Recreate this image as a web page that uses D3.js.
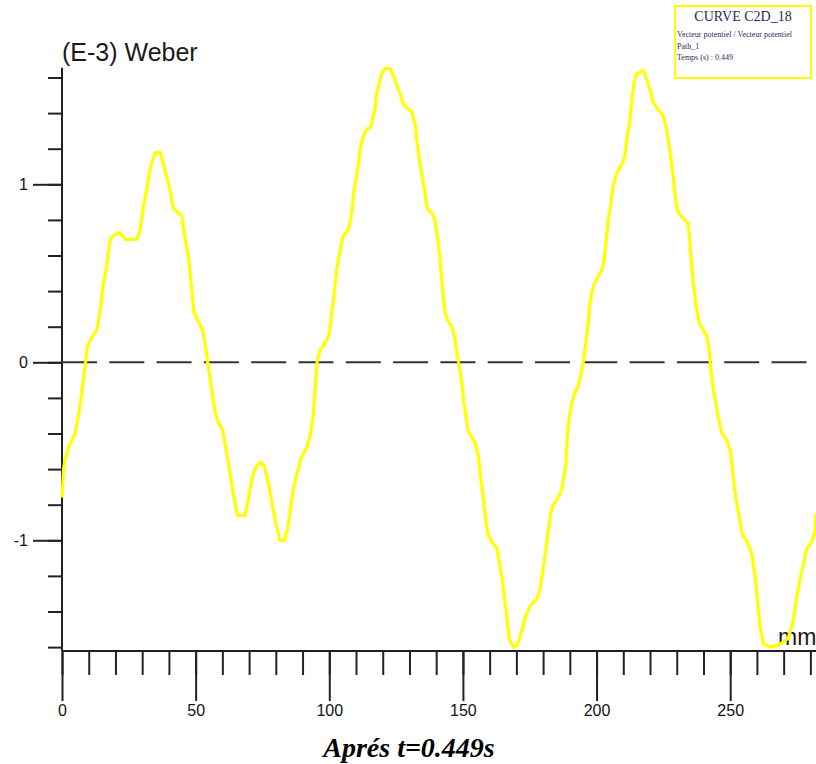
<!DOCTYPE html>
<html>
<head>
<meta charset="utf-8">
<script src="https://cdn.jsdelivr.net/npm/d3@7"></script>
<style>
  html, body { margin: 0; padding: 0; background: #fff; }
  svg { display: block; }
</style>
</head>
<body>
<svg id="chart" width="816" height="764"></svg>
<script>
// Position along the path (mm)
const positionMm = [
  0, 0.6, 1.1, 2.4, 4.9, 6.1, 7.4, 8.6, 9.5, 11.1, 13.0, 14.2, 15.5, 16.7, 18.0, 19.2,
  21.4, 23.6, 27.9, 29.2, 30.4, 31.9, 33.2, 34.8, 36.7, 38.2, 40.4, 41.6, 43.5, 44.8,
  46.0, 47.6, 48.5, 49.4, 51.0, 52.6, 53.5, 54.7, 56.0, 57.2, 58.5, 60.1, 61.4, 62.6,
  64.1, 65.6, 68.5, 69.7, 71.0, 72.2, 74.1, 75.6, 76.6, 77.8, 79.0, 80.3, 81.6, 83.4,
  84.7, 85.6, 86.5, 88.0, 89.7, 91.5, 92.8, 93.8, 94.6, 95.5,
  96.5, 98.4, 99.6, 100.3, 100.9, 101.5, 102.1, 102.8, 103.7, 104.6, 105.2, 107.1,
  108.0, 108.7, 109.2, 110.0, 110.9, 111.7, 112.7, 114.0, 115.5, 116.2, 117.1, 117.7,
  118.7, 119.6, 120.8, 122.7, 124.2, 125.4, 126.5, 127.7, 129.0, 130.8, 132.1, 132.9,
  133.9, 134.9, 135.8, 136.7, 138.3, 139.5, 140.4, 141.4, 142.4, 143.3, 144.5, 146.2,
  147.0, 147.9, 148.6, 149.5, 150.4, 151.4, 152.0, 153.3, 154.5, 155.7, 156.6, 157.6,
  158.6, 159.5, 160.8, 162.6, 163.6, 164.5, 165.4, 166.4, 167.3, 168.8, 170.3, 172.0,
  173.8, 175.1, 177.6, 178.8, 180.0, 181.1, 181.9, 182.8, 183.8, 185.7, 186.9, 187.8,
  188.6, 189.0, 189.8, 190.7, 191.9, 193.2, 194.0, 195.0, 196.0, 196.9, 197.4, 198.5,
  199.4, 201.3, 202.5, 203.5, 204.4, 205.3, 206.0, 206.9, 208.1, 209.8, 210.6, 211.5,
  212.5, 213.1, 214.0, 215.0, 217.5, 218.7, 220.0, 221.2, 223.1, 224.9, 226.2, 227.5,
  228.7, 229.7, 230.6, 232.4, 234.3, 235.2, 236.2, 237.2, 238.4, 239.9, 241.2, 242.2,
  242.6, 243.4, 244.6, 245.9, 246.8, 248.6, 250.1, 251.1, 252.1, 253.4, 254.6, 256.4,
  258.0, 259.3, 260.2, 261.2, 262.4, 264.9, 268.0, 271.7, 273.6, 274.9, 276.1, 277.4,
  278.6, 280.5, 281.7, 282.1
];

// Magnetic vector potential (E-3 Weber)
const potential = [
  -0.76, -0.60, -0.55, -0.48, -0.40, -0.31, -0.17, -0.03, 0.09, 0.14, 0.18, 0.28, 0.44, 0.54, 0.69, 0.71,
  0.73, 0.69, 0.69, 0.74, 0.87, 0.99, 1.10, 1.18, 1.18, 1.10, 0.97, 0.87, 0.84, 0.82,
  0.70, 0.56, 0.41, 0.28, 0.23, 0.18, 0.11, -0.02, -0.15, -0.27, -0.34, -0.38, -0.49, -0.60,
  -0.74, -0.86, -0.86, -0.77, -0.66, -0.60, -0.56, -0.58, -0.64, -0.72, -0.83, -0.92, -1.00, -1.00,
  -0.91, -0.81, -0.72, -0.62, -0.53, -0.48, -0.42, -0.32, -0.17, 0.01,
  0.065, 0.11, 0.14, 0.19, 0.28, 0.34, 0.43, 0.52, 0.60, 0.67, 0.71, 0.74,
  0.80, 0.88, 0.96, 1.03, 1.12, 1.21, 1.27, 1.31, 1.32, 1.37, 1.42, 1.51,
  1.57, 1.62, 1.65, 1.65, 1.60, 1.55, 1.51, 1.45, 1.43, 1.41, 1.34, 1.23,
  1.12, 1.03, 0.95, 0.86, 0.84, 0.80, 0.71, 0.58, 0.41, 0.28, 0.23, 0.19,
  0.13, 0.04, -0.02, -0.10, -0.23, -0.33, -0.39, -0.42, -0.45, -0.52, -0.64, -0.76,
  -0.89, -0.97, -1.01, -1.04, -1.12, -1.20, -1.30, -1.43, -1.55, -1.60, -1.59, -1.51,
  -1.41, -1.37, -1.33, -1.28, -1.16, -1.05, -0.95, -0.85, -0.80, -0.76, -0.72, -0.64,
  -0.56, -0.43, -0.31, -0.23, -0.17, -0.13, -0.08, 0.0, 0.11, 0.22, 0.32, 0.41,
  0.45, 0.50, 0.54, 0.67, 0.80, 0.88, 0.97, 1.03, 1.08, 1.12, 1.16, 1.27,
  1.36, 1.46, 1.57, 1.62, 1.64, 1.59, 1.53, 1.46, 1.42, 1.39, 1.31, 1.18,
  1.04, 0.90, 0.84, 0.81, 0.78, 0.62, 0.45, 0.32, 0.22, 0.18, 0.15, 0.06,
  -0.02, -0.12, -0.23, -0.33, -0.40, -0.43, -0.50, -0.64, -0.76, -0.87, -0.97, -1.01,
  -1.07, -1.20, -1.34, -1.49, -1.58, -1.60, -1.59, -1.55, -1.45, -1.32, -1.22, -1.14,
  -1.05, -1.01, -0.95, -0.85
];

// Axis ticks
const xMajorTicks = [0, 50, 100, 150, 200, 250];
const xMinorTicks = d3.range(0, 290, 10);
const yMajorTicks = [-1, 0, 1];
const yMinorTicks = d3.range(-16, 17, 2).map(v => v / 10);

// Axis extents (data units)
const xExtent = [0, 282.1];
const yExtent = [-1.622, 1.655];

// Text
const yTitle = "(E-3) Weber";
const xTitle = "mm";
const legendTitle = "CURVE C2D_18";
const legendLines = ["Vecteur potentiel / Vecteur potentiel", "Path_1", "Temps (s) : 0.449"];
const caption = "Aprés t=0.449s";

const svg = d3.select("#chart");
svg.append("rect").attr("width", 816).attr("height", 764).attr("fill", "#fff");

const x = d3.scaleLinear().domain(xExtent).range([62, 816]);
const y = d3.scaleLinear().domain([-1.6, 1.6]).range([647.1, 77.5]);

const axisColor = "#222";
const sans = "'Liberation Sans', Arial, sans-serif";
const serif = "'Liberation Serif', 'Times New Roman', serif";
const plainNumber = d => String(d);

// --- X axis (minor ticks, then major ticks with labels)
const xAxisY = y(yExtent[0]);
const gxMinor = svg.append("g").attr("transform", `translate(0,${xAxisY})`)
  .call(d3.axisBottom(x).tickValues(xMinorTicks).tickSize(24).tickFormat(""));
const gxMajor = svg.append("g").attr("transform", `translate(0,${xAxisY})`)
  .call(d3.axisBottom(x).tickValues(xMajorTicks).tickSize(50).tickPadding(4).tickFormat(plainNumber));

// --- Y axis
const yAxisX = x(0);
const gyMinor = svg.append("g").attr("transform", `translate(${yAxisX},0)`)
  .call(d3.axisLeft(y).tickValues(yMinorTicks).tickSize(14).tickFormat(""));
const gyMajor = svg.append("g").attr("transform", `translate(${yAxisX},0)`)
  .call(d3.axisLeft(y).tickValues(yMajorTicks).tickSize(29).tickPadding(5).tickFormat(plainNumber));

[gxMinor, gxMajor, gyMinor, gyMajor].forEach(g => {
  g.select(".domain").remove();
  g.selectAll(".tick line").attr("stroke", axisColor).attr("stroke-width", 2);
  g.selectAll(".tick text").attr("fill", "#111").style("font-family", sans).style("font-size", "16px");
});

// axis lines
svg.append("line")
  .attr("x1", yAxisX).attr("x2", yAxisX)
  .attr("y1", y(yExtent[1])).attr("y2", xAxisY)
  .attr("stroke", axisColor).attr("stroke-width", 2);
svg.append("line")
  .attr("x1", yAxisX).attr("x2", x(xExtent[1]))
  .attr("y1", xAxisY).attr("y2", xAxisY)
  .attr("stroke", axisColor).attr("stroke-width", 2);

// dashed zero reference
svg.append("line")
  .attr("x1", yAxisX).attr("x2", x(xExtent[1]))
  .attr("y1", y(0)).attr("y2", y(0))
  .attr("stroke", "#333").attr("stroke-width", 2)
  .attr("stroke-dasharray", "35,12.3");

// axis titles
svg.append("text")
  .attr("x", 62).attr("y", 61)
  .attr("fill", "#1a1a1a")
  .style("font-family", sans).style("font-size", "25px")
  .text(yTitle);
svg.append("text")
  .attr("x", 778).attr("y", 645)
  .attr("fill", "#1a1a1a")
  .style("font-family", sans).style("font-size", "23px")
  .text(xTitle);

// curve
const points = positionMm.map((d, i) => [d, potential[i]]);
svg.append("path")
  .datum(points)
  .attr("fill", "none")
  .attr("stroke", "#ffff00")
  .attr("stroke-width", 3.2)
  .attr("stroke-linejoin", "round")
  .attr("d", d3.line().x(d => x(d[0])).y(d => y(d[1])));

// legend box
const legend = svg.append("g");
legend.append("rect")
  .attr("x", 675).attr("y", 6).attr("width", 136).attr("height", 72)
  .attr("fill", "#fff").attr("stroke", "#ffff00").attr("stroke-width", 2);
legend.append("text")
  .attr("x", 743).attr("y", 21).attr("text-anchor", "middle")
  .attr("fill", "#2a2a5a")
  .style("font-family", serif).style("font-size", "14px")
  .text(legendTitle);
legend.selectAll("text.line")
  .data(legendLines)
  .enter().append("text")
  .attr("class", "line")
  .attr("x", 677).attr("y", (d, i) => 37 + i * 11.5)
  .attr("fill", "#2a2a5a")
  .style("font-family", serif).style("font-size", "8px")
  .text(d => d);

// caption
svg.append("text")
  .attr("x", 409).attr("y", 757).attr("text-anchor", "middle")
  .attr("fill", "#000")
  .style("font-family", serif).style("font-size", "28px")
  .style("font-weight", "bold").style("font-style", "italic")
  .text(caption);
</script>
</body>
</html>
